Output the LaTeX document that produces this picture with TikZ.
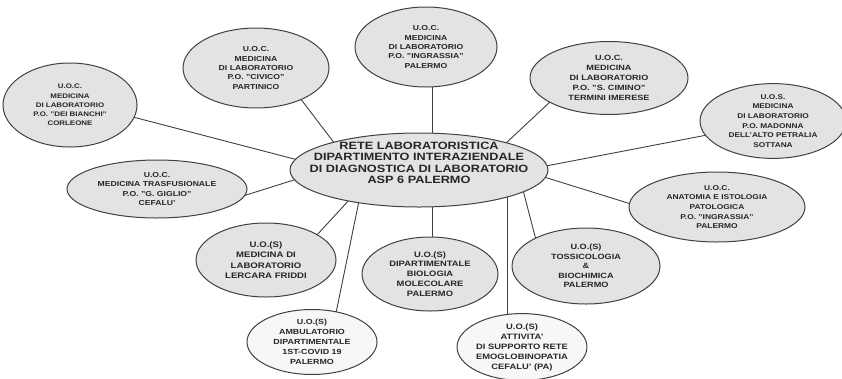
\documentclass[tikz,border=0pt]{standalone}
\usepackage{fontspec}
\setmainfont{Liberation Sans}[FakeStretch=1.2,BoldFont={Liberation Sans Bold}]
\usetikzlibrary{shapes.geometric,backgrounds,calc}
\begin{document}
\begin{tikzpicture}[x=1pt,y=-1pt,
  unit/.style={ellipse,draw=black!75,line width=1pt,fill=black!11,inner sep=0pt,
    align=center,text=black!85,font=\fontsize{7.2}{9.4}\selectfont\bfseries},
  plain/.style={unit,fill=black!3},
  hubtext/.style={align=center,text=black!85,inner sep=0pt,font=\fontsize{10.6}{11.4}\selectfont\bfseries},
  link/.style={draw=black!75,line width=0.9pt}]
\useasboundingbox (0,0) rectangle (842,378);
\node[unit,minimum width=258,minimum height=74] (c) at (419,170) {};
\node[hubtext] (ct) at (419,163)
  {RETE LABORATORISTICA\\DIPARTIMENTO INTERAZIENDALE\\DI DIAGNOSTICA DI LABORATORIO\\ASP 6 PALERMO};
\node[unit,minimum width=134,minimum height=84,font=\fontsize{6.6}{9.2}\selectfont\bfseries] (n1) at (70,105)
  {U.O.C.\\MEDICINA\\DI LABORATORIO\\P.O. "DEI BIANCHI"\\CORLEONE};
\node[unit,minimum width=146,minimum height=80] (n2) at (256,68)
  {U.O.C.\\MEDICINA\\DI LABORATORIO\\P.O. "CIVICO"\\PARTINICO};
\node[unit,minimum width=142,minimum height=80] (n3) at (426,47)
  {U.O.C.\\MEDICINA\\DI LABORATORIO\\P.O. "INGRASSIA"\\PALERMO};
\node[unit,minimum width=158,minimum height=73,font=\fontsize{7.6}{10}\selectfont\bfseries] (n4) at (609,78)
  {U.O.C.\\MEDICINA\\DI LABORATORIO\\P.O. "S. CIMINO"\\TERMINI IMERESE};
\node[unit,minimum width=146,minimum height=74,font=\fontsize{6.9}{9.6}\selectfont\bfseries] (n5) at (773,121)
  {U.O.S.\\MEDICINA\\DI LABORATORIO\\P.O. MADONNA\\DELL'ALTO PETRALIA\\SOTTANA};
\node[unit,minimum width=180,minimum height=58] (n6) at (157,189)
  {U.O.C.\\MEDICINA TRASFUSIONALE\\P.O. "G. GIGLIO"\\CEFALU'};
\node[unit,minimum width=176,minimum height=70,font=\fontsize{7}{9.6}\selectfont\bfseries] (n7) at (717,207)
  {U.O.C.\\ANATOMIA E ISTOLOGIA\\PATOLOGICA\\P.O. "INGRASSIA"\\PALERMO};
\node[unit,minimum width=140,minimum height=74,font=\fontsize{8}{10.5}\selectfont\bfseries] (n8) at (266,260)
  {U.O.(S)\\MEDICINA DI\\LABORATORIO\\LERCARA FRIDDI};
\node[unit,minimum width=136,minimum height=74,font=\fontsize{7.8}{9.8}\selectfont\bfseries] (n9) at (430,274)
  {U.O.(S)\\DIPARTIMENTALE\\BIOLOGIA\\MOLECOLARE\\PALERMO};
\node[unit,minimum width=148,minimum height=76,font=\fontsize{7.6}{9.6}\selectfont\bfseries] (n10) at (586,266)
  {U.O.(S)\\TOSSICOLOGIA\\\&\\BIOCHIMICA\\PALERMO};
\node[plain,minimum width=130,minimum height=65,font=\fontsize{7.4}{10}\selectfont\bfseries] (n11) at (312,342)
  {U.O.(S)\\AMBULATORIO\\DIPARTIMENTALE\\1ST-COVID 19\\PALERMO};
\node[plain,minimum width=124,minimum height=62,font=\fontsize{7.8}{10}\selectfont\bfseries] (n12) at (522,347)
  {U.O.(S)\\ATTIVITA'\\DI SUPPORTO RETE\\EMOGLOBINOPATIA\\CEFALU' (PA)};
% connector end points on the borders
\coordinate (p1) at ($(c)+(-121,-10)$);  \coordinate (q1) at ($(n1)+(63,12)$);
\coordinate (p2) at ($(c)+(-84,-26)$);   \coordinate (q2) at ($(n2)+(44,30)$);
\coordinate (p3) at ($(c)+(13,-35)$);    \coordinate (q3) at ($(n3)+(6,38)$);
\coordinate (p4) at ($(c)+(86,-26)$);    \coordinate (q4) at ($(n4)+(-58,23)$);
\coordinate (p5) at ($(c)+(127,-4)$);    \coordinate (q5) at ($(n5)+(-66,14)$);
\coordinate (p6) at ($(c)+(-122,9)$);    \coordinate (q6) at ($(n6)+(86,7)$);
\coordinate (p7) at ($(c)+(125,7)$);     \coordinate (q7) at ($(n7)+(-86,-3)$);
\coordinate (p8) at ($(c)+(-69,29)$);    \coordinate (q8) at ($(n8)+(50,-24)$);
\coordinate (p9) at ($(c)+(13,35)$);     \coordinate (q9) at ($(n9)+(2,-35)$);
\coordinate (p10) at ($(c)+(104,20)$);   \coordinate (q10) at ($(n10)+(-50,-26)$);
\coordinate (p11) at ($(c)+(-60,31)$);   \coordinate (q11) at ($(n11)+(24,-29)$);
\coordinate (p12) at ($(c)+(88,25)$);    \coordinate (q12) at ($(n12)+(-15,-29)$);
\begin{scope}[on background layer]
  \foreach \i in {1,...,12}
    \draw[link] ($(p\i)!-6pt!(q\i)$) -- ($(q\i)!-6pt!(p\i)$);
\end{scope}
\end{tikzpicture}
\end{document}
